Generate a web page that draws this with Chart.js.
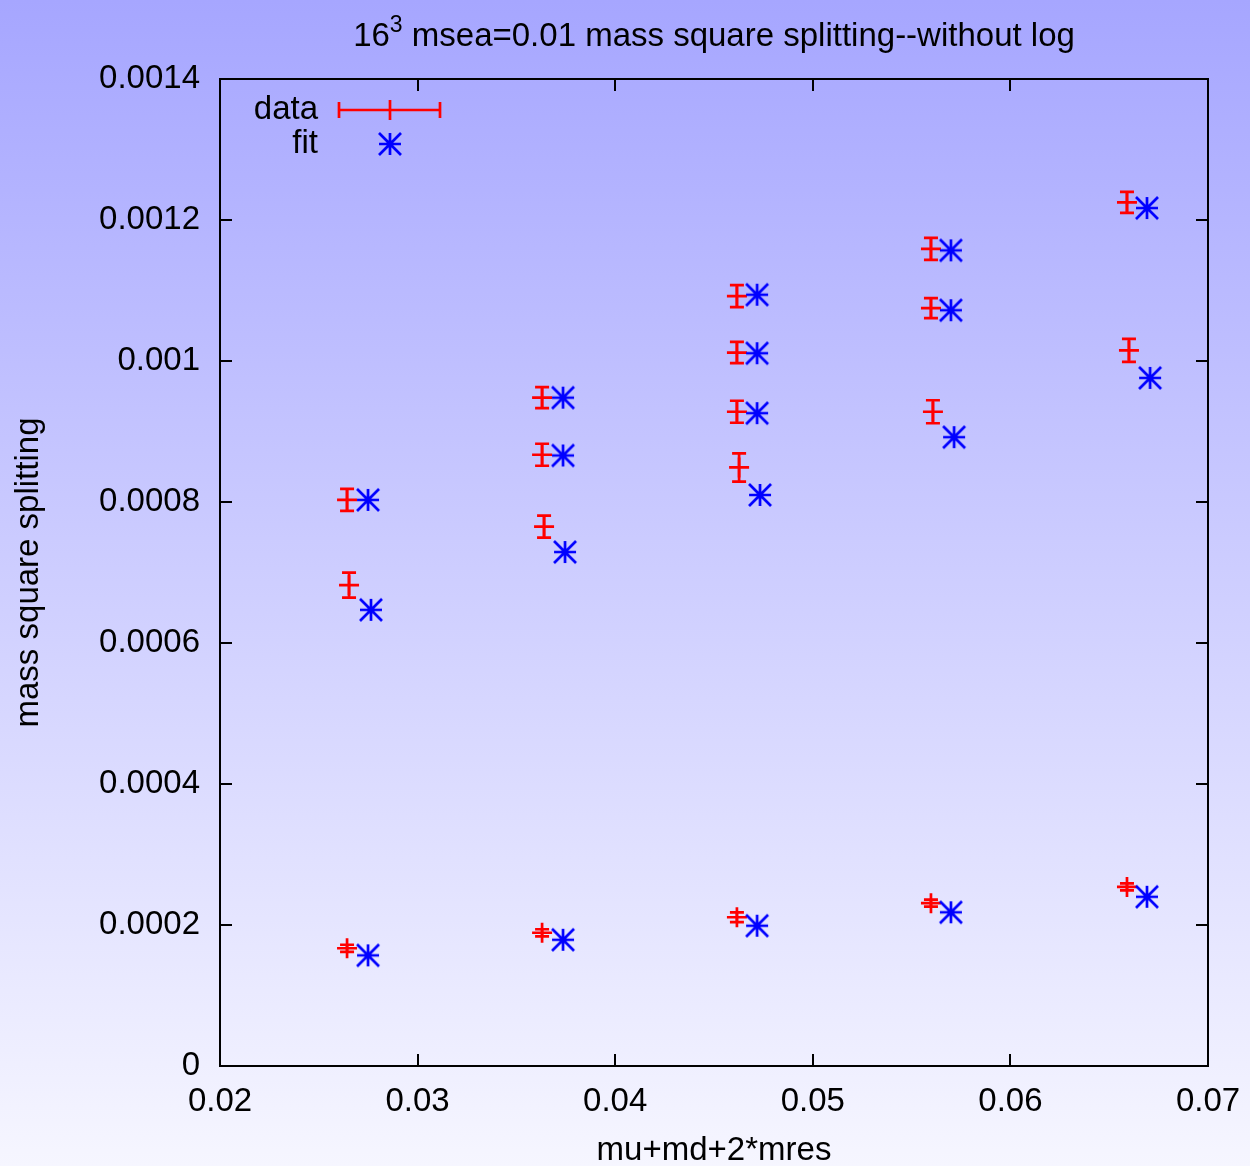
<!DOCTYPE html>
<html>
<head>
<meta charset="utf-8">
<script src="https://cdn.jsdelivr.net/npm/chart.js@4.4.1/dist/chart.umd.min.js"></script>
<style>
  html, body { margin: 0; padding: 0; background: #fff; }
  #wrap { width: 1250px; height: 1166px; }
</style>
</head>
<body>
<div id="wrap"><canvas id="myChart" width="1250" height="1166"></canvas></div>
<script>
// values
const dataX = [0.02643, 0.02653, 0.02643,
  0.0363, 0.0363, 0.0364, 0.0363,
  0.04616, 0.04616, 0.04616, 0.04627, 0.04616,
  0.05598, 0.05598, 0.05608, 0.05598,
  0.0659, 0.0660, 0.0659];
const dataY = [0.000803, 0.000682, 0.000167,
  0.000948, 0.000867, 0.000765, 0.000189,
  0.001092, 0.001012, 0.000928, 0.000849, 0.000211,
  0.001159, 0.001075, 0.000928, 0.000231,
  0.001225, 0.001015, 0.000254];
const dataErr = [0.0000156, 0.0000177, 0.000005,
  0.0000149, 0.0000156, 0.0000156, 0.000005,
  0.0000156, 0.000015, 0.0000156, 0.00002, 0.000007,
  0.0000156, 0.0000142, 0.0000163, 0.000005,
  0.000015, 0.0000163, 0.000005];
const fitX = [0.02749, 0.02764, 0.02749,
  0.03736, 0.03736, 0.03746, 0.03736,
  0.04718, 0.04718, 0.04718, 0.04733, 0.04718,
  0.05699, 0.05699, 0.05715, 0.05699,
  0.06691, 0.06707, 0.06691];
const fitY = [0.000803, 0.000647, 0.000157,
  0.000948, 0.000866, 0.000729, 0.000179,
  0.001094, 0.001011, 0.000926, 0.00081, 0.000199,
  0.001157, 0.001072, 0.000892, 0.000218,
  0.001217, 0.000976, 0.00024];

const xTicks = [0.02, 0.03, 0.04, 0.05, 0.06, 0.07];
const yTicks = [0, 0.0002, 0.0004, 0.0006, 0.0008, 0.001, 0.0012, 0.0014];
const xTickLabels = ['0.02', '0.03', '0.04', '0.05', '0.06', '0.07'];
const yTickLabels = ['0', '0.0002', '0.0004', '0.0006', '0.0008', '0.001', '0.0012', '0.0014'];

const FONT = '"Liberation Sans", Arial, Helvetica, sans-serif';
const FS = 33;
const RED = '#ff0000';
const BLUE = '#0000ff';

// asterisk like gnuplot's point type 3
function makeStar(r, color) {
  const c = document.createElement('canvas');
  const s = r * 2 + 4;
  c.width = s; c.height = s;
  const g = c.getContext('2d');
  const m = s / 2;
  g.strokeStyle = color;
  g.lineWidth = 2.7;
  g.beginPath();
  g.moveTo(m - r, m); g.lineTo(m + r, m);
  g.moveTo(m, m - r); g.lineTo(m, m + r);
  g.moveTo(m - r, m - r); g.lineTo(m + r, m + r);
  g.moveTo(m - r, m + r); g.lineTo(m + r, m - r);
  g.stroke();
  return c;
}
const starImg = makeStar(11, BLUE);

const bgPlugin = {
  id: 'bg',
  beforeDraw(chart) {
    const ctx = chart.ctx;
    const grd = ctx.createLinearGradient(0, 0, 0, chart.height);
    grd.addColorStop(0, '#a6a6ff');
    grd.addColorStop(1, '#f6f6ff');
    ctx.save();
    ctx.fillStyle = grd;
    ctx.fillRect(0, 0, chart.width, chart.height);
    ctx.restore();
  }
};

const errPlugin = {
  id: 'errbars',
  beforeDatasetsDraw(chart) {
    const ctx = chart.ctx;
    const xs = chart.scales.x, ys = chart.scales.y;
    ctx.save();
    ctx.strokeStyle = RED;
    ctx.lineWidth = 2.7;
    for (let i = 0; i < dataX.length; i++) {
      const px = xs.getPixelForValue(dataX[i]);
      const lo = ys.getPixelForValue(dataY[i] - dataErr[i]);
      const hi = ys.getPixelForValue(dataY[i] + dataErr[i]);
      ctx.beginPath();
      ctx.moveTo(px, lo); ctx.lineTo(px, hi);
      ctx.moveTo(px - 7, lo); ctx.lineTo(px + 7, lo);
      ctx.moveTo(px - 7, hi); ctx.lineTo(px + 7, hi);
      ctx.stroke();
    }
    ctx.restore();
  }
};

const framePlugin = {
  id: 'frame',
  afterDraw(chart) {
    const ctx = chart.ctx;
    const a = chart.chartArea;
    const xs = chart.scales.x, ys = chart.scales.y;
    ctx.save();
    ctx.strokeStyle = '#000';
    ctx.lineWidth = 2;
    ctx.beginPath();
    xTicks.forEach(v => {
      const px = Math.round(xs.getPixelForValue(v));
      ctx.moveTo(px, a.bottom); ctx.lineTo(px, a.bottom - 12);
      ctx.moveTo(px, a.top); ctx.lineTo(px, a.top + 12);
    });
    yTicks.forEach(v => {
      const py = Math.round(ys.getPixelForValue(v));
      ctx.moveTo(a.left, py); ctx.lineTo(a.left + 12, py);
      ctx.moveTo(a.right, py); ctx.lineTo(a.right - 12, py);
    });
    ctx.stroke();
    ctx.strokeRect(a.left, a.top, a.right - a.left, a.bottom - a.top);

    // title with superscript
    const t1 = '16', t2 = '3', t3 = ' msea=0.01 mass square splitting--without log';
    ctx.fillStyle = '#000';
    ctx.textBaseline = 'alphabetic';
    ctx.font = FS + 'px ' + FONT;
    const w1 = ctx.measureText(t1).width, w3 = ctx.measureText(t3).width;
    ctx.font = '23px ' + FONT;
    const w2 = ctx.measureText(t2).width;
    let x = (a.left + a.right) / 2 - (w1 + w2 + w3) / 2;
    const base = 46;
    ctx.font = FS + 'px ' + FONT;
    ctx.textAlign = 'left';
    ctx.fillText(t1, x, base); x += w1;
    ctx.font = '23px ' + FONT;
    ctx.fillText(t2, x, base - 14); x += w2;
    ctx.font = FS + 'px ' + FONT;
    ctx.fillText(t3, x, base);

    // key
    ctx.textAlign = 'right';
    ctx.textBaseline = 'middle';
    ctx.fillText('data', 318, 110);
    ctx.fillText('fit', 318, 144);
    ctx.strokeStyle = RED;
    ctx.lineWidth = 2.7;
    ctx.beginPath();
    ctx.moveTo(339, 110); ctx.lineTo(440, 110);
    ctx.moveTo(339, 102); ctx.lineTo(339, 118);
    ctx.moveTo(440, 102); ctx.lineTo(440, 118);
    ctx.moveTo(390, 100); ctx.lineTo(390, 120);
    ctx.stroke();
    ctx.drawImage(starImg, 390 - starImg.width / 2, 144 - starImg.height / 2);
    ctx.restore();
  }
};

const dchart = document.getElementById('myChart');
const config = {
  type: 'scatter',
  data: {
    datasets: [{
      label: 'data',
      data: dataX.map((x, i) => ({x: x, y: dataY[i]})),
      pointStyle: 'cross',
      pointRadius: 10,
      pointHoverRadius: 10,
      borderColor: RED,
      backgroundColor: RED,
      borderWidth: 2.7,
      order: 1
    }, {
      label: 'fit',
      data: fitX.map((x, i) => ({x: x, y: fitY[i]})),
      pointStyle: starImg,
      pointRadius: 11,
      borderColor: BLUE,
      backgroundColor: BLUE,
      order: 0
    }]
  },
  options: {
    responsive: false,
    animation: false,
    events: [],
    layout: { padding: { top: 79, right: 42, left: 0, bottom: 0 } },
    plugins: {
      legend: { display: false },
      tooltip: { enabled: false },
      title: { display: false }
    },
    scales: {
      x: {
        type: 'linear',
        min: 0.02, max: 0.07,
        afterBuildTicks: s => { s.ticks = xTicks.map(v => ({value: v})); },
        afterFit: s => { s.height = 100; },
        grid: { display: false },
        border: { display: false },
        ticks: {
          color: '#000',
          font: { family: FONT, size: FS },
          padding: 8,
          maxRotation: 0,
          callback: (v, i) => xTickLabels[i]
        },
        title: {
          display: true,
          text: 'mu+md+2*mres',
          color: '#000',
          font: { family: FONT, size: FS },
          padding: { top: 0, bottom: -5 }
        }
      },
      y: {
        type: 'linear',
        min: 0, max: 0.0014,
        afterBuildTicks: s => { s.ticks = yTicks.map(v => ({value: v})); },
        afterFit: s => { s.width = 220; },
        grid: { display: false },
        border: { display: false },
        ticks: {
          color: '#000',
          font: { family: FONT, size: FS },
          padding: 12,
          callback: (v, i) => yTickLabels[i]
        },
        title: {
          display: true,
          text: 'mass square splitting',
          color: '#000',
          font: { family: FONT, size: FS },
          padding: { top: 9, bottom: 0 }
        }
      }
    }
  },
  plugins: [bgPlugin, errPlugin, framePlugin]
};
const nChart = new Chart(dchart, config);
</script>
</body>
</html>
